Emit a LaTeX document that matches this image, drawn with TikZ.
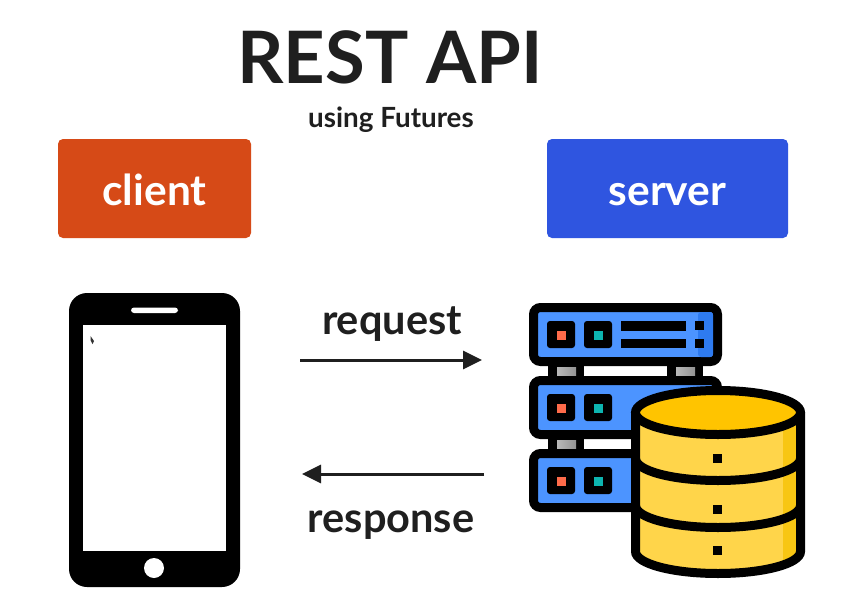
\documentclass[tikz,border=0pt]{standalone}
\usepackage{fontspec}
\setmainfont{Lato}[BoldFont={* Bold}]
\usetikzlibrary{arrows.meta}
\definecolor{clientc}{HTML}{D64A17}
\definecolor{serverc}{HTML}{2F55E0}
\definecolor{rack}{HTML}{4C94FF}
\definecolor{rackd}{HTML}{2E7BF0}
\definecolor{ink}{HTML}{000000}
\definecolor{txt}{HTML}{1F1F1F}
\definecolor{cyl}{HTML}{FFD54A}
\definecolor{cyltop}{HTML}{FFC400}
\definecolor{cyld}{HTML}{F8C613}
\definecolor{led1}{HTML}{FF6B4A}
\definecolor{led2}{HTML}{0DB5B0}
\tikzset{
  x=1pt,y=-1pt,
  btn/.style={rounded corners=5pt,minimum height=99pt,inner sep=0pt,text=white,text height=33pt,text depth=0pt,font=\fontsize{42.5}{46}\selectfont\bfseries},
  lbl/.style={text=txt,inner sep=0pt,anchor=base,font=\fontsize{41.5}{46}\selectfont\bfseries},
  flow/.style={draw=txt,line width=3pt,-{Triangle[length=19pt,width=18pt]},shorten >=0pt},
  rackbox/.style={draw=ink,line width=9pt,fill=rack,rounded corners=7pt},
  blk/.style={fill=ink,rounded corners=3pt},
  cyline/.style={draw=ink,line width=9pt}
}
\newcommand{\rackunit}[1]{%
  \draw[rackbox] (533.5,#1+5.5) rectangle (717.5,#1+59.5);
  \fill[blk] (547,#1+19) rectangle (575,#1+46);
  \fill[blk] (584,#1+19) rectangle (612,#1+46);
  \fill[led1] (557,#1+29) rectangle (566,#1+38);
  \fill[led2] (594,#1+29) rectangle (603,#1+38);
}
\newcommand{\rackpost}[2]{%
  \fill[ink] (#1,#2) rectangle (#1+36,#2+11);
  \shade[left color=gray!55,right color=gray!85] (#1+9,#2+1) rectangle (#1+28,#2+9);
}
\begin{document}
\begin{tikzpicture}
\useasboundingbox (0,0) rectangle (847,600);
\fill[white] (0,0) rectangle (847,600);
% titles
\node[text=txt,inner sep=0pt,anchor=base,font=\fontsize{72.3}{80}\selectfont\bfseries] (title) at (390,83) {REST API};
\node[text=txt,inner sep=0pt,anchor=base,font=\fontsize{27.8}{30}\selectfont\bfseries] (sub) at (391,127) {using Futures};
% boxes
\node[btn,fill=clientc,minimum width=193pt] (client) at (154.5,188.5) {client};
\node[btn,fill=serverc,minimum width=241pt] (server) at (667.5,188.5) {server};
% phone
\fill[ink,rounded corners=18pt] (69,293) rectangle (240,587);
\fill[white] (82.5,325) rectangle (226,551);
\fill[white,rounded corners=3pt] (131,307.5) rectangle (178,313);
\fill[white] (154,568) circle (10);
\fill[ink!80] (90.5,336) -- (94,341) -- (92.5,344) -- (90.5,340) -- cycle;
% arrows
\coordinate (reqa) at (300,360);
\coordinate (reqb) at (482,360);
\coordinate (resa) at (484,474);
\coordinate (resb) at (302,474);
\draw[flow] (reqa) -- (reqb);
\draw[flow] (resa) -- (resb);
\node[lbl] (request) at (392,334) {request};
\node[lbl] (response) at (391,532) {response};
% racks
\rackpost{548}{366}\rackpost{667}{366}\rackpost{548}{439}
\rackunit{302}
\rackunit{375}
\rackunit{448}
\fill[rackd,rounded corners=3pt] (698,312) rectangle (713,357);
\fill[ink] (621,321) rectangle (686,331);
\fill[ink] (621,339) rectangle (686,348);
\fill[ink] (695,321) rectangle (704,330);
\fill[ink] (695,339) rectangle (704,348);
% cylinder
\fill[cyl] (635.5,412.5) -- (635.5,551.5) arc[start angle=180,end angle=0,x radius=82.5,y radius=22] -- (800.5,412.5) -- cycle;
\fill[cyld] (783,425) rectangle (796,560);
\draw[cyline] (635.5,412.5) -- (635.5,551.5) arc[start angle=180,end angle=0,x radius=82.5,y radius=22] -- (800.5,412.5);
\draw[cyline] (635.5,458.5) arc[start angle=180,end angle=0,x radius=82.5,y radius=22];
\draw[cyline] (635.5,505.5) arc[start angle=180,end angle=0,x radius=82.5,y radius=22];
\draw[cyline,fill=cyltop] (718,412.5) ellipse[x radius=82.5,y radius=22];
\fill[ink] (713,454) rectangle (722,463);
\fill[ink] (713,505) rectangle (722,514);
\fill[ink] (713,546) rectangle (722,555);
\end{tikzpicture}
\end{document}
